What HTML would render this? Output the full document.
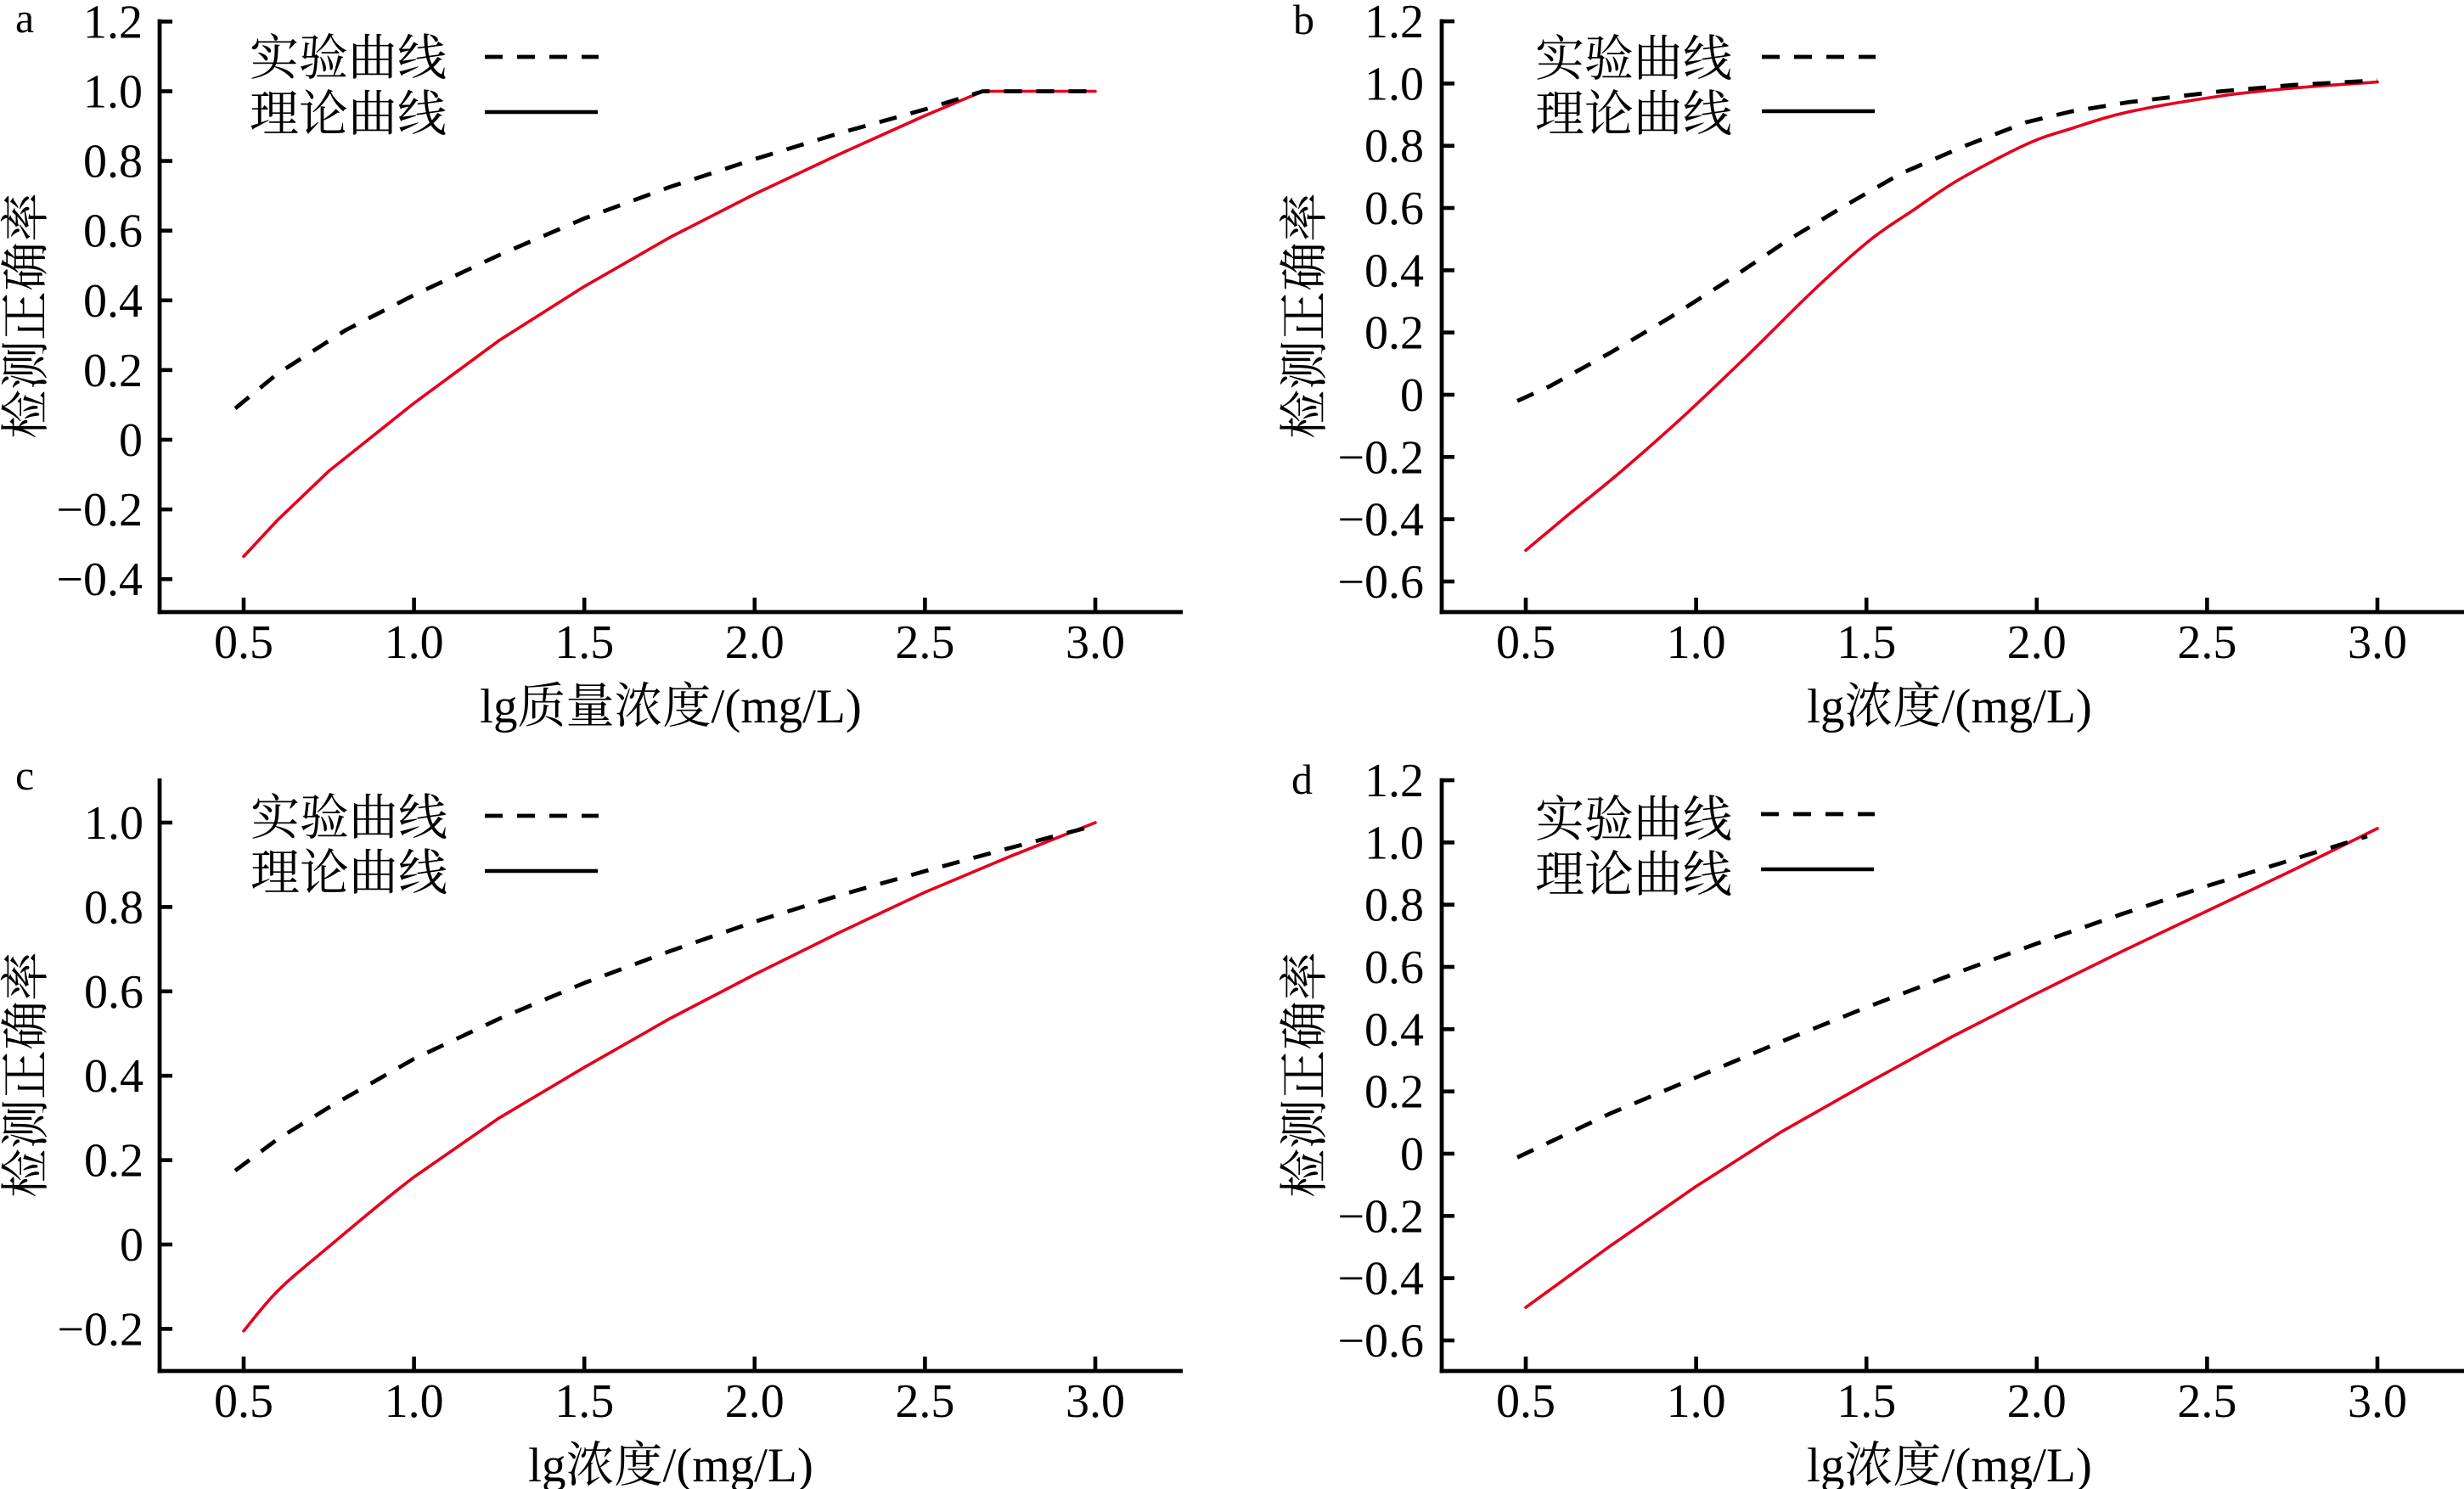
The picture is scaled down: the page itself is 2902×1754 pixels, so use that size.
<!DOCTYPE html>
<html>
<head>
<meta charset="utf-8">
<style>
html,body{margin:0;padding:0;background:#fff;}
svg{display:block;}
.t{font-family:"Liberation Serif","Noto Serif CJK SC",serif;font-size:56px;fill:#000;}
.lab{font-family:"Liberation Serif","Noto Serif CJK SC",serif;font-size:57px;fill:#000;}
.cj{font-family:"Liberation Serif","Noto Serif CJK SC",serif;font-size:58px;fill:#000;}
.let{font-family:"Liberation Serif",serif;font-size:50px;fill:#000;}
.ax{stroke:#000;stroke-width:4.8;fill:none;}
.tk{stroke:#000;stroke-width:4.6;fill:none;}
.red{stroke:#e6001e;stroke-width:3.6;fill:none;stroke-linejoin:round;stroke-linecap:round;}
.dash{stroke:#000;stroke-width:4.8;fill:none;stroke-dasharray:21 17;stroke-linejoin:round;}
.sol{stroke:#000;stroke-width:4.6;fill:none;}
</style>
</head>
<body>
<svg width="2902" height="1754" viewBox="0 0 2902 1754" xmlns="http://www.w3.org/2000/svg">
<rect x="0" y="0" width="2902" height="1754" fill="#fff"/>

<!-- ================= Panel a ================= -->
<text class="let" x="18" y="38">a</text>
<line class="ax" x1="188" y1="22.6" x2="188" y2="723.5"/>
<line class="ax" x1="185.6" y1="721" x2="1393" y2="721"/>
<g class="tk">
<line x1="188" y1="25.4" x2="203" y2="25.4"/>
<line x1="188" y1="107.5" x2="203" y2="107.5"/>
<line x1="188" y1="189.6" x2="203" y2="189.6"/>
<line x1="188" y1="271.7" x2="203" y2="271.7"/>
<line x1="188" y1="353.8" x2="203" y2="353.8"/>
<line x1="188" y1="435.9" x2="203" y2="435.9"/>
<line x1="188" y1="518" x2="203" y2="518"/>
<line x1="188" y1="600.1" x2="203" y2="600.1"/>
<line x1="188" y1="682.2" x2="203" y2="682.2"/>
</g>
<g class="t" text-anchor="end">
<text x="168" y="44.4">1.2</text>
<text x="168" y="126.5">1.0</text>
<text x="168" y="208.6">0.8</text>
<text x="168" y="290.7">0.6</text>
<text x="168" y="372.8">0.4</text>
<text x="168" y="454.9">0.2</text>
<text x="168" y="537">0</text>
<text x="168" y="619.1">−0.2</text>
<text x="168" y="701.2">−0.4</text>
</g>
<g class="tk">
<line x1="287" y1="721" x2="287" y2="704"/>
<line x1="487.6" y1="721" x2="487.6" y2="704"/>
<line x1="688.2" y1="721" x2="688.2" y2="704"/>
<line x1="888.8" y1="721" x2="888.8" y2="704"/>
<line x1="1089.4" y1="721" x2="1089.4" y2="704"/>
<line x1="1290" y1="721" x2="1290" y2="704"/>
</g>
<g class="t" text-anchor="middle">
<text x="287" y="775">0.5</text>
<text x="487.6" y="775">1.0</text>
<text x="688.2" y="775">1.5</text>
<text x="888.8" y="775">2.0</text>
<text x="1089.4" y="775">2.5</text>
<text x="1290" y="775">3.0</text>
</g>
<text class="lab" x="790" y="851" text-anchor="middle">lg质量浓度/(mg/L)</text>
<text class="cj" transform="translate(50,372) rotate(-90)" text-anchor="middle">检测正确率</text>
<text class="cj" x="294" y="88">实验曲线</text>
<text class="cj" x="294" y="154">理论曲线</text>
<line class="dash" x1="571" y1="67" x2="705" y2="67"/>
<line class="sol" x1="571" y1="132" x2="704" y2="132"/>
<polyline class="red" points="287,655.5 327.1,612.4 387.3,554.9 487.6,474.9 587.9,401 688.2,337.4 788.5,279.9 888.8,228.6 989.1,181.4 1089.4,136.2 1157.6,107.5 1290,107.5"/>
<polyline class="dash" points="277,481.1 327.1,440 407.4,388.7 487.6,347.6 587.9,300.4 688.2,257.3 788.5,220.4 888.8,187.5 989.1,156.8 1089.4,128.8 1157.6,107.5 1290,107.5"/>

<!-- ================= Panel b ================= -->
<text class="let" x="1523" y="40">b</text>
<line class="ax" x1="1698" y1="22.6" x2="1698" y2="723.5"/>
<line class="ax" x1="1695.6" y1="721" x2="2902" y2="721"/>
<g class="tk">
<line x1="1698" y1="25.1" x2="1713" y2="25.1"/>
<line x1="1698" y1="98.4" x2="1713" y2="98.4"/>
<line x1="1698" y1="171.7" x2="1713" y2="171.7"/>
<line x1="1698" y1="245" x2="1713" y2="245"/>
<line x1="1698" y1="318.4" x2="1713" y2="318.4"/>
<line x1="1698" y1="391.7" x2="1713" y2="391.7"/>
<line x1="1698" y1="465" x2="1713" y2="465"/>
<line x1="1698" y1="538.3" x2="1713" y2="538.3"/>
<line x1="1698" y1="611.6" x2="1713" y2="611.6"/>
<line x1="1698" y1="685" x2="1713" y2="685"/>
</g>
<g class="t" text-anchor="end">
<text x="1677" y="44.1">1.2</text>
<text x="1677" y="117.4">1.0</text>
<text x="1677" y="190.7">0.8</text>
<text x="1677" y="264">0.6</text>
<text x="1677" y="337.4">0.4</text>
<text x="1677" y="410.7">0.2</text>
<text x="1677" y="484">0</text>
<text x="1677" y="557.3">−0.2</text>
<text x="1677" y="630.6">−0.4</text>
<text x="1677" y="704">−0.6</text>
</g>
<g class="tk">
<line x1="1797" y1="721" x2="1797" y2="704"/>
<line x1="1997.6" y1="721" x2="1997.6" y2="704"/>
<line x1="2198.2" y1="721" x2="2198.2" y2="704"/>
<line x1="2398.8" y1="721" x2="2398.8" y2="704"/>
<line x1="2599.4" y1="721" x2="2599.4" y2="704"/>
<line x1="2800" y1="721" x2="2800" y2="704"/>
</g>
<g class="t" text-anchor="middle">
<text x="1797" y="775">0.5</text>
<text x="1997.6" y="775">1.0</text>
<text x="2198.2" y="775">1.5</text>
<text x="2398.8" y="775">2.0</text>
<text x="2599.4" y="775">2.5</text>
<text x="2800" y="775">3.0</text>
</g>
<text class="lab" x="2296" y="851" text-anchor="middle">lg浓度/(mg/L)</text>
<text class="cj" transform="translate(1556,372) rotate(-90)" text-anchor="middle">检测正确率</text>
<text class="cj" x="1808" y="89">实验曲线</text>
<text class="cj" x="1808" y="154">理论曲线</text>
<line class="dash" x1="2075" y1="67" x2="2209" y2="67"/>
<line class="sol" x1="2075" y1="131" x2="2208" y2="131"/>
<path class="red" d="M1797,648.3 C1805,641.6 1825.7,624.1 1845.1,608 C1864.5,591.9 1889.55,572.25 1913.3,551.9 C1937.05,531.55 1962.85,508.7 1987.6,485.9 C2012.35,463.1 2037.07,439.08 2061.8,415.1 C2086.53,391.12 2112.6,364.02 2136,342 C2159.4,319.98 2182.47,298.85 2202.2,283 C2221.93,267.15 2237.02,258.73 2254.4,246.9 C2271.78,235.07 2284.43,224.83 2306.5,212 C2328.57,199.17 2364.73,179.97 2386.8,169.9 C2408.87,159.83 2418.85,157.95 2438.9,151.6 C2458.95,145.25 2477.68,138.22 2507.1,131.8 C2536.52,125.38 2583.3,117.75 2615.4,113.1 C2647.5,108.45 2668.93,106.65 2699.7,103.9 C2730.47,101.15 2783.28,97.82 2800,96.6"/>
<polyline class="dash" points="1787,472.3 1825.1,455.1 1897.3,415.1 1965.5,374.8 2035.7,330.1 2105.9,282.8 2172.1,242.8 2238.3,204.7 2314.5,171.7 2386.8,143.9 2438.9,131.4 2507.1,120.4 2615.4,107.6 2699.7,100.2 2800,94.7"/>

<!-- ================= Panel c ================= -->
<text class="let" x="18" y="930">c</text>
<line class="ax" x1="188" y1="917" x2="188" y2="1617.5"/>
<line class="ax" x1="185.6" y1="1615" x2="1393" y2="1615"/>
<g class="tk">
<line x1="188" y1="969" x2="203" y2="969"/>
<line x1="188" y1="1068.4" x2="203" y2="1068.4"/>
<line x1="188" y1="1167.8" x2="203" y2="1167.8"/>
<line x1="188" y1="1267.2" x2="203" y2="1267.2"/>
<line x1="188" y1="1366.6" x2="203" y2="1366.6"/>
<line x1="188" y1="1466" x2="203" y2="1466"/>
<line x1="188" y1="1565.4" x2="203" y2="1565.4"/>
</g>
<g class="t" text-anchor="end">
<text x="169" y="988">1.0</text>
<text x="169" y="1087.4">0.8</text>
<text x="169" y="1186.8">0.6</text>
<text x="169" y="1286.2">0.4</text>
<text x="169" y="1385.6">0.2</text>
<text x="169" y="1485">0</text>
<text x="169" y="1584.4">−0.2</text>
</g>
<g class="tk">
<line x1="287" y1="1615" x2="287" y2="1598"/>
<line x1="487.6" y1="1615" x2="487.6" y2="1598"/>
<line x1="688.2" y1="1615" x2="688.2" y2="1598"/>
<line x1="888.8" y1="1615" x2="888.8" y2="1598"/>
<line x1="1089.4" y1="1615" x2="1089.4" y2="1598"/>
<line x1="1290" y1="1615" x2="1290" y2="1598"/>
</g>
<g class="t" text-anchor="middle">
<text x="287" y="1669">0.5</text>
<text x="487.6" y="1669">1.0</text>
<text x="688.2" y="1669">1.5</text>
<text x="888.8" y="1669">2.0</text>
<text x="1089.4" y="1669">2.5</text>
<text x="1290" y="1669">3.0</text>
</g>
<text class="lab" x="790" y="1745" text-anchor="middle">lg浓度/(mg/L)</text>
<text class="cj" transform="translate(50,1266) rotate(-90)" text-anchor="middle">检测正确率</text>
<text class="cj" x="295" y="983">实验曲线</text>
<text class="cj" x="295" y="1048">理论曲线</text>
<line class="dash" x1="571" y1="961" x2="705" y2="961"/>
<line class="sol" x1="571" y1="1026" x2="704" y2="1026"/>
<path class="red" d="M287,1567.9 C293.7,1560 310.38,1537.27 327.1,1520.7 C343.82,1504.13 360.55,1490.87 387.3,1468.5 C414.05,1446.13 454.17,1411.77 487.6,1386.5 L587.9,1316.9 L688.2,1257.3 L788.5,1200.1 L888.8,1147.9 L989.1,1098.2 L1089.4,1051 L1189.7,1008.8 L1290,969"/>
<polyline class="dash" points="277,1379 327.1,1341.8 387.3,1304.5 487.6,1247.3 587.9,1200.1 688.2,1157.9 788.5,1120.6 888.8,1085.8 989.1,1054.5 1089.4,1026.2 1189.7,998.8 1278,975.5"/>

<!-- ================= Panel d ================= -->
<text class="let" x="1521" y="935">d</text>
<line class="ax" x1="1698" y1="916.7" x2="1698" y2="1617.5"/>
<line class="ax" x1="1695.6" y1="1615" x2="2902" y2="1615"/>
<g class="tk">
<line x1="1698" y1="919.1" x2="1713" y2="919.1"/>
<line x1="1698" y1="992.4" x2="1713" y2="992.4"/>
<line x1="1698" y1="1065.7" x2="1713" y2="1065.7"/>
<line x1="1698" y1="1139" x2="1713" y2="1139"/>
<line x1="1698" y1="1212.4" x2="1713" y2="1212.4"/>
<line x1="1698" y1="1285.7" x2="1713" y2="1285.7"/>
<line x1="1698" y1="1359" x2="1713" y2="1359"/>
<line x1="1698" y1="1432.3" x2="1713" y2="1432.3"/>
<line x1="1698" y1="1505.6" x2="1713" y2="1505.6"/>
<line x1="1698" y1="1579" x2="1713" y2="1579"/>
</g>
<g class="t" text-anchor="end">
<text x="1677" y="938.1">1.2</text>
<text x="1677" y="1011.4">1.0</text>
<text x="1677" y="1084.7">0.8</text>
<text x="1677" y="1158">0.6</text>
<text x="1677" y="1231.4">0.4</text>
<text x="1677" y="1304.7">0.2</text>
<text x="1677" y="1378">0</text>
<text x="1677" y="1451.3">−0.2</text>
<text x="1677" y="1524.6">−0.4</text>
<text x="1677" y="1598">−0.6</text>
</g>
<g class="tk">
<line x1="1797" y1="1615" x2="1797" y2="1598"/>
<line x1="1997.6" y1="1615" x2="1997.6" y2="1598"/>
<line x1="2198.2" y1="1615" x2="2198.2" y2="1598"/>
<line x1="2398.8" y1="1615" x2="2398.8" y2="1598"/>
<line x1="2599.4" y1="1615" x2="2599.4" y2="1598"/>
<line x1="2800" y1="1615" x2="2800" y2="1598"/>
</g>
<g class="t" text-anchor="middle">
<text x="1797" y="1669">0.5</text>
<text x="1997.6" y="1669">1.0</text>
<text x="2198.2" y="1669">1.5</text>
<text x="2398.8" y="1669">2.0</text>
<text x="2599.4" y="1669">2.5</text>
<text x="2800" y="1669">3.0</text>
</g>
<text class="lab" x="2296" y="1745" text-anchor="middle">lg浓度/(mg/L)</text>
<text class="cj" transform="translate(1556,1266) rotate(-90)" text-anchor="middle">检测正确率</text>
<text class="cj" x="1808" y="985">实验曲线</text>
<text class="cj" x="1808" y="1050">理论曲线</text>
<line class="dash" x1="2074" y1="959" x2="2208" y2="959"/>
<line class="sol" x1="2074" y1="1024" x2="2207" y2="1024"/>
<polyline class="red" points="1797,1540.1 1897.3,1467.1 1997.6,1397.5 2097.9,1333.3 2198.2,1276.5 2298.5,1221.5 2398.8,1170.2 2499.1,1120.7 2599.4,1073.1 2699.7,1025.4 2800,975.9"/>
<polyline class="dash" points="1787,1363.4 1897.3,1311.3 1997.6,1269.2 2097.9,1227 2198.2,1186.7 2298.5,1148.2 2398.8,1111.5 2499.1,1076.7 2599.4,1043.7 2699.7,1012.6 2788,985.1"/>
</svg>
</body>
</html>
